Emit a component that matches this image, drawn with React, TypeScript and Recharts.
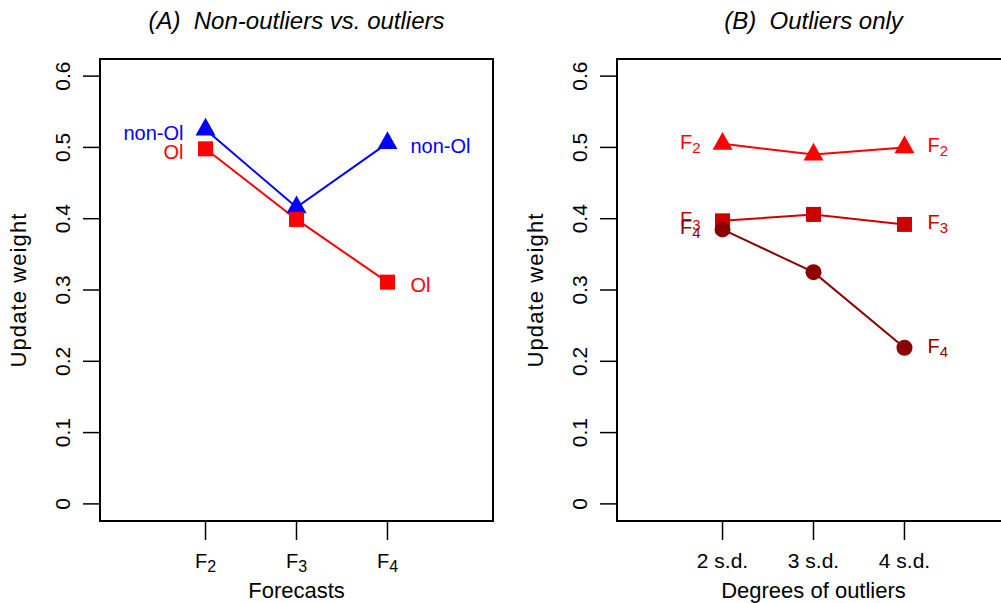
import { LineChart, Line, XAxis, YAxis, ReferenceArea, Label, LabelList } from "recharts";

const FONT = "'Liberation Sans', Arial, Helvetica, sans-serif";

// x positions (R-style 1..3 on an xlim of 0..4)
const xPositions = [1, 2, 3];
const forecastSubs = ["2", "3", "4"];
const degreeTicks = ["2 s.d.", "3 s.d.", "4 s.d."];
const yTicks = [0, 0.1, 0.2, 0.3, 0.4, 0.5, 0.6];

// panel A
const nonOutlierWeights = [0.525, 0.416, 0.506];
const outlierWeights = [0.498, 0.399, 0.311];

// panel B
const f2Weights = [0.505, 0.49, 0.5];
const f3Weights = [0.397, 0.406, 0.392];
const f4Weights = [0.385, 0.325, 0.219];

const X_DOMAIN: [number, number] = [-0.16, 4.16];
const Y_DOMAIN: [number, number] = [-0.024, 0.624];

const BLUE = "#0000FF";
const RED = "#FF0000";
const RED3 = "#CD0000";
const DARKRED = "#8B0000";

const dataA = xPositions.map((x, i) => ({ x, nonOl: nonOutlierWeights[i], ol: outlierWeights[i] }));
const dataB = xPositions.map((x, i) => ({ x, f2: f2Weights[i], f3: f3Weights[i], f4: f4Weights[i] }));

/* markers, R pch 17 / 15 / 19 */
const triangle = (color: string) => (p: any) => (
  <path
    key={`tri-${p.index}`}
    d={`M${p.cx},${p.cy - 11.8}L${p.cx + 10},${p.cy + 5.9}L${p.cx - 10},${p.cy + 5.9}Z`}
    fill={color}
  />
);
const square = (color: string) => (p: any) => (
  <rect key={`sq-${p.index}`} x={p.cx - 7.5} y={p.cy - 7.5} width={15} height={15} fill={color} />
);
const disc = (color: string) => (p: any) => (
  <circle key={`dc-${p.index}`} cx={p.cx} cy={p.cy} r={8} fill={color} />
);

/* end labels: first point labelled on the left, last one on the right */
const plainEndLabel = (text: string, color: string) => (p: any) => {
  if (p.index !== 0 && p.index !== xPositions.length - 1) return null;
  const left = p.index === 0;
  return (
    <text
      key={`lb-${p.index}`}
      x={left ? p.x - 22 : p.x + 23}
      y={p.y + 10}
      textAnchor={left ? "end" : "start"}
      fontSize={20}
      fontFamily={FONT}
      fill={color}
    >
      {text}
    </text>
  );
};

const subEndLabel = (sub: string, color: string) => (p: any) => {
  if (p.index !== 0 && p.index !== xPositions.length - 1) return null;
  const left = p.index === 0;
  return (
    <text
      key={`sl-${p.index}`}
      x={left ? p.x - 22 : p.x + 23}
      y={p.y + 5}
      textAnchor={left ? "end" : "start"}
      fontSize={20}
      fontFamily={FONT}
      fill={color}
    >
      F<tspan fontSize={15} dy={4}>{sub}</tspan>
    </text>
  );
};

const YTick = (p: any) => (
  <text
    x={p.x}
    y={p.y}
    transform={`rotate(-90, ${p.x}, ${p.y})`}
    textAnchor="middle"
    fontSize={21}
    fontFamily={FONT}
    fill="#000"
  >
    {String(p.payload.value)}
  </text>
);

const ForecastTick = (p: any) => {
  const i = xPositions.indexOf(p.payload.value);
  return (
    <text x={p.x} y={p.y + 28} textAnchor="middle" fontSize={20} fontFamily={FONT} fill="#000">
      F<tspan fontSize={16} dy={4}>{forecastSubs[i]}</tspan>
    </text>
  );
};

const DegreeTick = (p: any) => {
  const i = xPositions.indexOf(p.payload.value);
  return (
    <text x={p.x} y={p.y + 28} textAnchor="middle" fontSize={21} fontFamily={FONT} fill="#000">
      {degreeTicks[i]}
    </text>
  );
};

const xTitle = (text: string) => (p: any) => {
  const vb = p.viewBox || { x: 100, y: 521, width: 393 };
  return (
    <text x={vb.x + vb.width / 2} y={vb.y + 77} textAnchor="middle" fontSize={22} fontFamily={FONT} fill="#000">
      {text}
    </text>
  );
};

const yTitle = (p: any) => {
  const vb = p.viewBox || { x: 0, y: 59, height: 462 };
  const x = vb.x + 26;
  const y = vb.y + vb.height / 2;
  return (
    <text
      x={x}
      y={y}
      transform={`rotate(-90, ${x}, ${y})`}
      textAnchor="middle"
      fontSize={22}
      letterSpacing={1.1}
      fontFamily={FONT}
      fill="#000"
    >
      Update weight
    </text>
  );
};

function Panel({ title, children, data, tick, xLabel }: any) {
  return (
    <div style={{ position: "relative", width: 500, height: 603 }}>
      <div
        style={{
          position: "absolute",
          left: 100,
          top: 9,
          width: 393,
          textAlign: "center",
          fontSize: 24,
          lineHeight: "24px",
          fontStyle: "italic",
          fontFamily: FONT,
          whiteSpace: "pre",
          color: "#000",
        }}
      >
        {title}
      </div>
      <LineChart width={500} height={603} data={data} margin={{ top: 59, right: 7, bottom: 0, left: 0 }}>
        <XAxis
          dataKey="x"
          type="number"
          domain={X_DOMAIN}
          ticks={xPositions}
          allowDataOverflow
          axisLine={false}
          tickSize={19}
          tickMargin={0}
          tickLine={{ stroke: "#000", strokeWidth: 1.5 }}
          tick={tick}
          height={82}
          interval={0}
        >
          <Label content={xTitle(xLabel)} />
        </XAxis>
        <YAxis
          type="number"
          domain={Y_DOMAIN}
          ticks={yTicks}
          allowDataOverflow
          axisLine={false}
          tickSize={17}
          tickMargin={13}
          tickLine={{ stroke: "#000", strokeWidth: 1.5 }}
          tick={YTick}
          width={100}
          interval={0}
        >
          <Label content={yTitle} />
        </YAxis>
        <ReferenceArea
          x1={X_DOMAIN[0]}
          x2={X_DOMAIN[1]}
          y1={Y_DOMAIN[0]}
          y2={Y_DOMAIN[1]}
          fill="none"
          stroke="#000"
          strokeWidth={2}
          ifOverflow="visible"
        />
        {children}
      </LineChart>
    </div>
  );
}

export default function App() {
  return (
    <div
      style={{
        position: "absolute",
        left: 0,
        top: 0,
        width: 1001,
        height: 603,
        overflow: "hidden",
        background: "#fff",
      }}
    >
      <div style={{ position: "absolute", left: 0, top: 0 }}>
        <Panel title="(A)  Non-outliers vs. outliers" data={dataA} tick={ForecastTick} xLabel="Forecasts">
          <Line dataKey="nonOl" stroke={BLUE} strokeWidth={2} dot={triangle(BLUE)} activeDot={false} isAnimationActive={false}>
            <LabelList dataKey="nonOl" content={plainEndLabel("non-Ol", BLUE)} />
          </Line>
          <Line dataKey="ol" stroke={RED} strokeWidth={2} dot={square(RED)} activeDot={false} isAnimationActive={false}>
            <LabelList dataKey="ol" content={plainEndLabel("Ol", RED)} />
          </Line>
        </Panel>
      </div>
      <div style={{ position: "absolute", left: 517, top: 0 }}>
        <Panel title="(B)  Outliers only" data={dataB} tick={DegreeTick} xLabel="Degrees of outliers">
          <Line dataKey="f2" stroke={RED} strokeWidth={2} dot={triangle(RED)} activeDot={false} isAnimationActive={false}>
            <LabelList dataKey="f2" content={subEndLabel("2", RED)} />
          </Line>
          <Line dataKey="f3" stroke={RED3} strokeWidth={2} dot={square(RED3)} activeDot={false} isAnimationActive={false}>
            <LabelList dataKey="f3" content={subEndLabel("3", RED3)} />
          </Line>
          <Line dataKey="f4" stroke={DARKRED} strokeWidth={2} dot={disc(DARKRED)} activeDot={false} isAnimationActive={false}>
            <LabelList dataKey="f4" content={subEndLabel("4", DARKRED)} />
          </Line>
        </Panel>
      </div>
    </div>
  );
}
